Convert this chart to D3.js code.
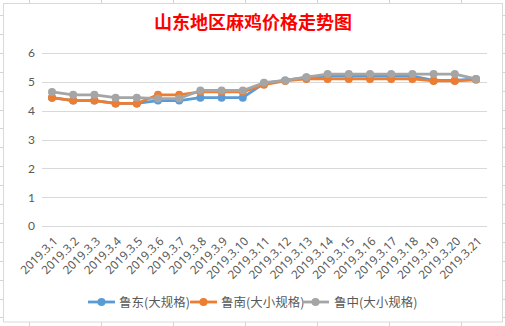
<!DOCTYPE html>
<html><head><meta charset="utf-8">
<script src="https://cdn.jsdelivr.net/npm/d3@7"></script>
<style>html,body{margin:0;padding:0;background:#fff;overflow:hidden}</style>
</head><body>
<svg id="c" width="505" height="326"></svg>
<script>
const title = "山东地区麻鸡价格走势图";
const categories = ["2019.3.1","2019.3.2","2019.3.3","2019.3.4","2019.3.5","2019.3.6","2019.3.7","2019.3.8","2019.3.9","2019.3.10","2019.3.11","2019.3.12","2019.3.13","2019.3.14","2019.3.15","2019.3.16","2019.3.17","2019.3.18","2019.3.19","2019.3.20","2019.3.21"];
const seriesNames = ["鲁东(大规格)","鲁南(大小规格)","鲁中(大小规格)"];
const luDong  = [4.45,4.35,4.35,4.25,4.25,4.35,4.35,4.45,4.45,4.45,4.95,5.05,5.15,5.2,5.2,5.2,5.2,5.2,5.05,5.05,5.1];
const luNan   = [4.45,4.35,4.35,4.25,4.25,4.55,4.55,4.65,4.65,4.65,4.9,5.03,5.1,5.1,5.1,5.1,5.1,5.1,5.03,5.03,5.07];
const luZhong = [4.65,4.55,4.55,4.45,4.45,4.42,4.42,4.7,4.7,4.7,4.97,5.05,5.16,5.27,5.27,5.27,5.27,5.27,5.27,5.27,5.1];
const yTicks = [0,1,2,3,4,5,6];
const colors = ["#5b9bd5","#ed7d31","#a5a5a5"];
const seriesData = [luDong, luNan, luZhong];

const svg = d3.select("#c");
// spreadsheet background grid
const bgCols = [29,101,173,245,317,389,461];
const bgRows = d3.range(15,326,18.9);
svg.selectAll(".bgc").data(bgCols).enter().append("line")
  .attr("x1",d=>d+0.5).attr("x2",d=>d+0.5).attr("y1",0).attr("y2",326)
  .attr("stroke","#d4d4d4").attr("stroke-width",1);
svg.selectAll(".bgr").data(bgRows).enter().append("line")
  .attr("x1",0).attr("x2",505).attr("y1",d=>Math.round(d)+0.5).attr("y2",d=>Math.round(d)+0.5)
  .attr("stroke","#d4d4d4").attr("stroke-width",1);
// chart area
svg.append("rect").attr("x",3.5).attr("y",3.5).attr("width",499).attr("height",318.5)
  .attr("fill","#fff").attr("stroke","#d9d9d9").attr("stroke-width",1);

svg.append("text").attr("x",253).attr("y",29).attr("text-anchor","middle")
  .attr("font-family","'Noto Sans CJK SC'").attr("font-weight","bold").attr("font-size",18)
  .attr("fill","#ff0000").text(title);

const x = d3.scalePoint().domain(categories).range([52,476]);
const y = d3.scaleLinear().domain([0,6]).range([226,53]);

// gridlines
svg.append("g").selectAll("line").data(yTicks).enter().append("line")
  .attr("x1",42).attr("x2",487).attr("y1",d=>Math.round(y(d))+0.5).attr("y2",d=>Math.round(y(d))+0.5)
  .attr("stroke","#d9d9d9").attr("stroke-width",1);

// y axis labels
const yAxis = d3.axisLeft(y).tickValues(yTicks).tickSize(0).tickPadding(0).tickFormat(d3.format("d"));
const gy = svg.append("g").attr("transform","translate(35,0)").call(yAxis);
gy.select(".domain").remove();
gy.selectAll("text").attr("font-family","Lato, 'Noto Sans', sans-serif").attr("font-size",12).attr("fill","#595959");

// x axis labels
const xAxis = d3.axisBottom(x).tickSize(0).tickPadding(0);
const gx = svg.append("g").attr("transform","translate(0,226)").call(xAxis);
gx.select(".domain").remove();
gx.selectAll("text")
  .attr("font-family","'Noto Sans', sans-serif").attr("font-size",11.8).attr("fill","#595959")
  .attr("text-anchor","end").attr("dy",0).attr("y",0)
  .attr("transform","translate(6,16) rotate(-45)");

// lines
const line = d3.line().x((d,i)=>x(categories[i])).y(d=>y(d));
seriesData.forEach((s,k)=>{
  const g = svg.append("g");
  g.append("path").datum(s).attr("d",line).attr("fill","none")
    .attr("stroke",colors[k]).attr("stroke-width",2.8).attr("stroke-linejoin","round");
  g.selectAll("circle").data(s).enter().append("circle")
    .attr("cx",(d,i)=>x(categories[i])).attr("cy",d=>y(d)).attr("r",4)
    .attr("fill",colors[k]);
});

// legend
const legX = [88,190,302];
const legTextX = [119,221,334];
const lg = svg.append("g");
seriesNames.forEach((n,k)=>{
  lg.append("line").attr("x1",legX[k]).attr("x2",legX[k]+27).attr("y1",302).attr("y2",302)
    .attr("stroke",colors[k]).attr("stroke-width",2.8);
  lg.append("circle").attr("cx",legX[k]+13.5).attr("cy",302).attr("r",4).attr("fill",colors[k]);
  lg.append("text").attr("x",legTextX[k]).attr("y",306.5)
    .attr("font-family","'Noto Sans CJK SC'").attr("font-size",12.5).attr("fill","#595959").text(n);
});
</script>
</body></html>
